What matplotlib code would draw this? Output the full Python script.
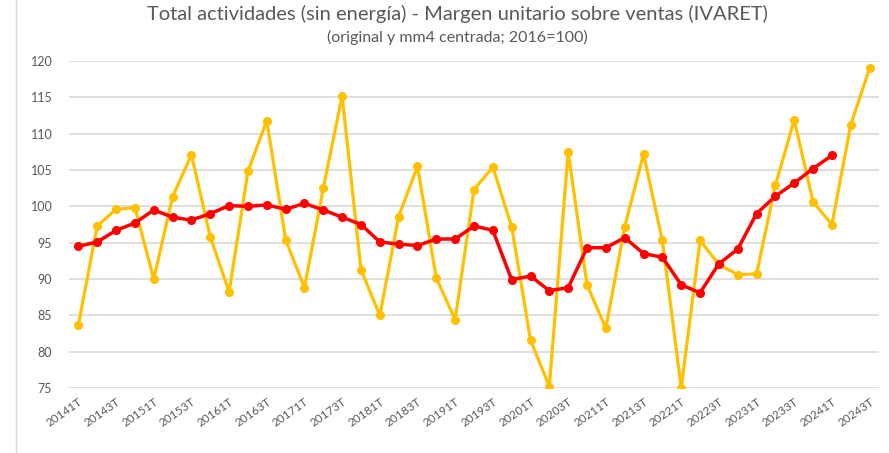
import matplotlib
matplotlib.use('Agg')
import matplotlib.pyplot as plt
from matplotlib.lines import Line2D

plt.rcParams['font.family'] = ['Lato', 'DejaVu Sans']

# trimestres 2014 1T - 2024 3T
years = list(range(2014, 2025))
periodos = [f'{y}{q}T' for y in years for q in range(1, 5)][:43]

original = [83.7, 97.3, 99.6, 99.8, 90.0, 101.3, 107.1, 95.8, 88.2, 104.8,
            111.8, 95.4, 88.8, 102.5, 115.2, 91.3, 85.0, 98.6, 105.5, 90.1,
            84.4, 102.3, 105.4, 97.2, 81.6, 75.2, 107.5, 89.2, 83.2, 97.2,
            107.2, 95.3, 75.0, 95.3, 92.0, 90.6, 90.7, 102.9, 111.9, 100.6,
            97.5, 111.2, 119.0]

mm4 = [94.5, 95.1, 96.7, 97.7, 99.5, 98.5, 98.1, 99.0, 100.1, 100.0,
       100.2, 99.6, 100.4, 99.5, 98.5, 97.5, 95.1, 94.8, 94.6, 95.5,
       95.5, 97.3, 96.7, 89.9, 90.4, 88.4, 88.8, 94.3, 94.3, 95.7,
       93.5, 93.0, 89.2, 88.1, 92.1, 94.1, 99.0, 101.4, 103.2, 105.2,
       107.0]

gris = '#595959'

fig = plt.figure(figsize=(8.89, 4.53), dpi=100)
ax = fig.add_axes([69/889, 1 - 388/453, 810/889, 327/453])

x = list(range(len(periodos)))
ax.plot(x, original, color='#FFC000', lw=2.3, marker='o', ms=5.5)
ax.plot(x[:len(mm4)], mm4, color='#FF0000', lw=2.5, marker='o', ms=5.5)

ax.set_xlim(-0.5, len(periodos) - 0.5)
ax.set_ylim(75, 120)
ax.set_yticks(range(75, 121, 5))
ax.grid(axis='y', color='#D9D9D9', lw=1.2)
ax.set_axisbelow(True)
for s in ax.spines.values():
    s.set_visible(False)

ax.set_xticks(x[::2])
ax.set_xticklabels(periodos[::2], rotation=35, ha='right', va='top',
                   rotation_mode='anchor', fontsize=8.5, color=gris)
ax.tick_params(axis='both', length=0, colors=gris)
ax.tick_params(axis='y', labelsize=9, pad=12)
ax.tick_params(axis='x', pad=6)

fig.text(457/889, 1 - 14/453, 'Total actividades (sin energía) - Margen unitario sobre ventas (IVARET)',
         ha='center', va='center', fontsize=14.5, color=gris)
fig.text(457/889, 1 - 37/453, '(original y mm4 centrada; 2016=100)',
         ha='center', va='center', fontsize=11.5, color=gris)

# borde izquierdo del área del gráfico
fig.add_artist(Line2D([16/889, 16/889], [0, 1], transform=fig.transFigure,
                      color='#D9D9D9', lw=1))

fig.savefig('out.png', dpi=100)
